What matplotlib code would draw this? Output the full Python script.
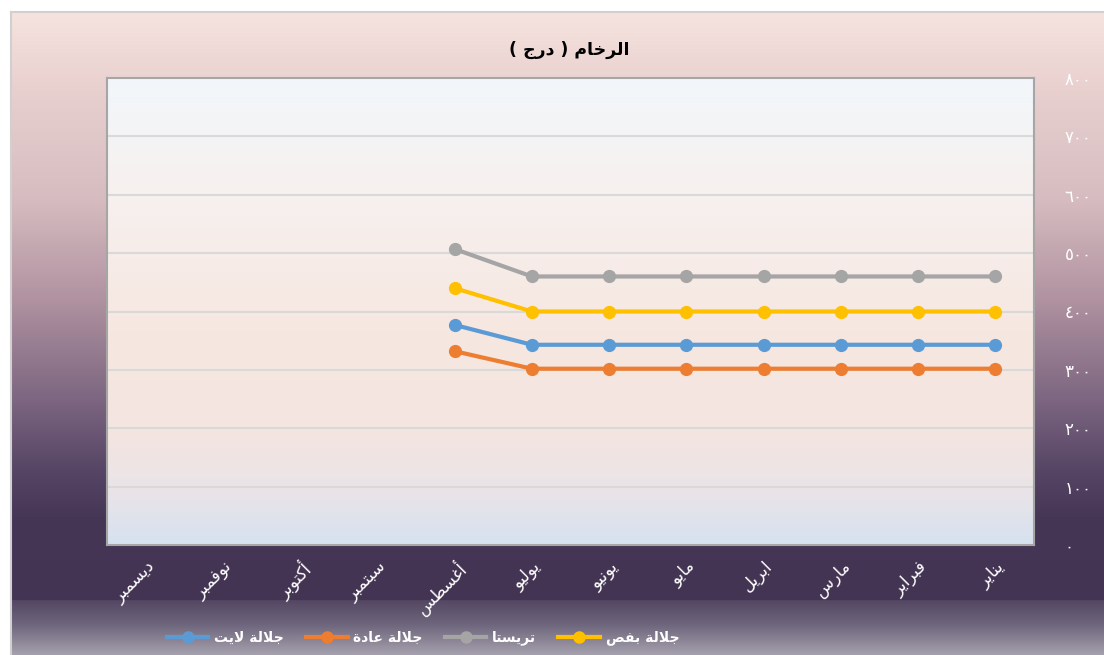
import numpy as np
import matplotlib
matplotlib.use("Agg")
import matplotlib.pyplot as plt
from matplotlib.lines import Line2D

plt.rcParams['font.family'] = ['DejaVu Sans']

# ---------------- data ----------------
months = ["يناير", "فبراير", "مارس", "ابريل", "مايو", "يونيو",
          "يوليو", "أغسطس", "سبتمبر", "أكتوبر", "نوفمبر", "ديسمبر"]
y_ticks = [0, 100, 200, 300, 400, 500, 600, 700, 800]
title = "الرخام ( درج )"

s_bafs_name = "جلالة بفص"
s_bafs = [400, 400, 400, 400, 400, 400, 400, 440]
s_trista_name = "تريستا"
s_trista = [460, 460, 460, 460, 460, 460, 460, 507]
s_ada_name = "جلالة عادة"
s_ada = [302, 302, 302, 302, 302, 302, 302, 332]
s_light_name = "جلالة لايت"
s_light = [343, 343, 343, 343, 343, 343, 343, 377]

# ---------------- simple Arabic shaping ----------------
FORMS = {
    'ا': (0xFE8D, 2), 'أ': (0xFE83, 2), 'ب': (0xFE8F, 4), 'ة': (0xFE93, 2),
    'ت': (0xFE95, 4), 'ج': (0xFE9D, 4), 'خ': (0xFEA5, 4), 'د': (0xFEA9, 2),
    'ر': (0xFEAD, 2), 'س': (0xFEB1, 4), 'ط': (0xFEC1, 4), 'ع': (0xFEC9, 4),
    'غ': (0xFECD, 4), 'ف': (0xFED1, 4), 'ك': (0xFED9, 4), 'ل': (0xFEDD, 4),
    'م': (0xFEE1, 4), 'ن': (0xFEE5, 4), 'و': (0xFEED, 2), 'ي': (0xFEF1, 4),
    'ص': (0xFEB9, 4),
}
LAM_ALEF = {'ا': (0xFEFB, 0xFEFC), 'أ': (0xFEF7, 0xFEF8)}


def shape(text):
    tokens = []
    i = 0
    while i < len(text):
        c = text[i]
        if c == 'ل' and i + 1 < len(text) and text[i + 1] in LAM_ALEF:
            tokens.append(('LA', text[i + 1]))
            i += 2
        else:
            tokens.append(('C', c))
            i += 1

    def dual(t):
        return t[0] == 'C' and t[1] in FORMS and FORMS[t[1]][1] == 4

    def arabic(t):
        return t[0] == 'LA' or t[1] in FORMS

    out = []
    for k, t in enumerate(tokens):
        prev = tokens[k - 1] if k > 0 else None
        nxt = tokens[k + 1] if k + 1 < len(tokens) else None
        jp = prev is not None and dual(prev) and arabic(t)
        if t[0] == 'LA':
            iso, fin = LAM_ALEF[t[1]]
            out.append(chr(fin if jp else iso))
            continue
        c = t[1]
        if c not in FORMS:
            out.append(c)
            continue
        base, n = FORMS[c]
        jn = n == 4 and nxt is not None and arabic(nxt)
        if jp and jn:
            out.append(chr(base + 3))
        elif jp:
            out.append(chr(base + 1))
        elif jn:
            out.append(chr(base + 2))
        else:
            out.append(chr(base))
    return ''.join(out)


MIRROR = {'(': ')', ')': '('}


def rtl(text):
    s = shape(text)
    return ''.join(MIRROR.get(c, c) for c in reversed(s))


def arabic_digits(v):
    return ''.join(chr(0x0660 + int(d)) for d in str(v))


# ---------------- figure ----------------
W, H = 1104, 655
fig = plt.figure(figsize=(W / 100, H / 100), dpi=100)
fig.patch.set_facecolor('white')


def grad(stops, n=655):
    ys = np.array([s[0] for s in stops], float)
    cols = np.array([s[1] for s in stops], float) / 255.0
    yy = np.linspace(ys[0], ys[-1], n)
    img = np.stack([np.interp(yy, ys, cols[:, k]) for k in range(3)], axis=1)
    return img[:, None, :]


# chart area background
bg = fig.add_axes([11 / W, 0, 1 - 11 / W, 1 - 12 / H], zorder=-10)
bg_stops = [(12, (246, 227, 222)), (90, (232, 208, 207)), (200, (214, 188, 192)),
            (300, (176, 146, 160)), (400, (124, 102, 129)), (470, (86, 69, 101)),
            (520, (70, 54, 86)), (600, (67, 52, 84)), (601, (84, 71, 99)),
            (625, (110, 102, 124)), (655, (165, 160, 173))]
bg.imshow(grad(bg_stops), aspect='auto', extent=[0, 1, 0, 1], interpolation='bilinear')
bg.set_xlim(0, 1)
bg.set_ylim(0, 1)
bg.axis('off')
fig.add_artist(Line2D([11 / W, 11 / W], [0, 1 - 12 / H], color='#d0d0d0', lw=1.5))
fig.add_artist(Line2D([11 / W, 1], [1 - 12 / H, 1 - 12 / H], color='#d0d0d0', lw=1.5))

# plot area
L, R, T, B = 107, 1034, 78, 545
ax = fig.add_axes([L / W, 1 - B / H, (R - L) / W, (B - T) / H])
ax.set_facecolor('none')
pa_stops = [(78, (242, 247, 251)), (200, (247, 240, 238)), (330, (246, 231, 225)),
            (430, (244, 229, 224)), (490, (234, 228, 232)), (545, (214, 226, 240))]
ax.imshow(grad(pa_stops), aspect='auto', extent=[0, 1, 0, 1],
          transform=ax.transAxes, zorder=0, interpolation='bilinear')

x = np.arange(len(months))
ax.set_xlim(len(months) - 0.5, -0.5)
ax.set_ylim(0, 800)

for yv in y_ticks[1:-1]:
    ax.axhline(yv, color='#d9d9d9', lw=1.5, zorder=1)

series = [(s_bafs_name, s_bafs, '#ffc000'),
          (s_trista_name, s_trista, '#a5a5a5'),
          (s_ada_name, s_ada, '#ed7d31'),
          (s_light_name, s_light, '#5b9bd5')]
handles = {}
for name, vals, col in series:
    h, = ax.plot(x[:len(vals)], vals, color=col, lw=3, marker='o', ms=8.5,
                 solid_capstyle='round', zorder=3)
    handles[name] = (h, col)

for sp in ax.spines.values():
    sp.set_color('#a6a6a6')
    sp.set_linewidth(1.5)

ax.set_xticks(x)
ax.set_xticklabels([rtl(m) for m in months], rotation=45, ha='right', va='top',
                   rotation_mode='anchor', color='white', fontsize=12)
ax.tick_params(axis='x', length=0, pad=9)

ax.yaxis.tick_right()
ax.set_yticks(y_ticks)
ax.set_yticklabels([arabic_digits(v) for v in y_ticks], color='white', fontsize=12)
for lab in ax.get_yticklabels():
    lab.set_horizontalalignment('left')
ax.tick_params(axis='y', length=0, pad=22)

fig.text(569 / W, 1 - 50 / H, rtl(title), ha='center', va='center',
         fontsize=12.5, fontweight='bold', color='black')

# legend
order = [s_light_name, s_ada_name, s_trista_name, s_bafs_name]
leg_handles = [Line2D([], [], color=handles[n][1], lw=3, marker='o', ms=8)
               for n in order]
leg = fig.legend(leg_handles, [rtl(n) for n in order], loc='center',
                 bbox_to_anchor=(423 / W, 1 - 638 / H), ncol=4, frameon=False,
                 handlelength=3.0, handletextpad=0.4, columnspacing=1.6,
                 fontsize=10)
for t in leg.get_texts():
    t.set_color('white')
    t.set_fontweight('bold')

fig.savefig('out.png', dpi=100)
